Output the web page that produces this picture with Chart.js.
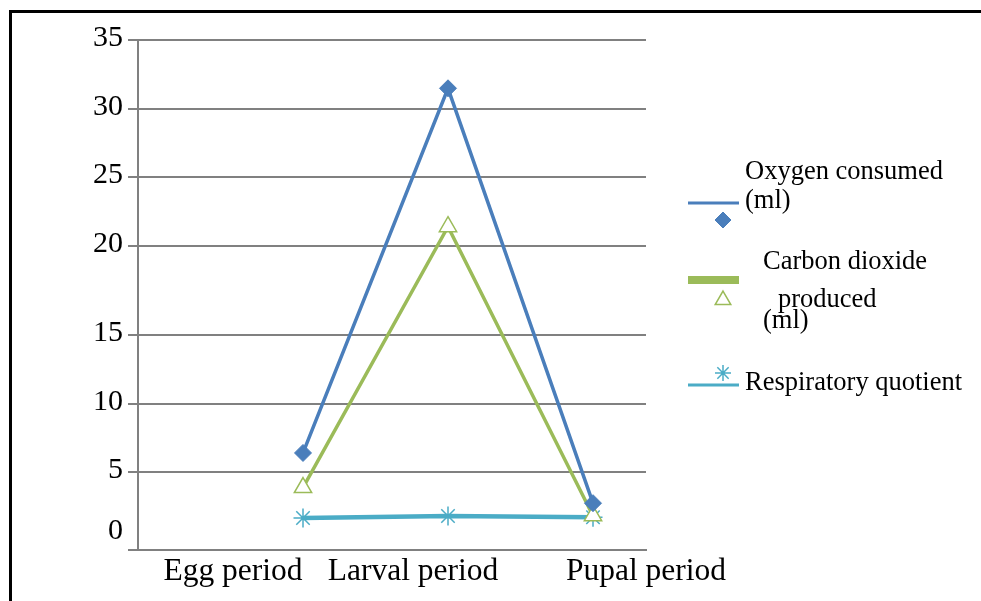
<!DOCTYPE html>
<html>
<head>
<meta charset="utf-8">
<script src="https://cdn.jsdelivr.net/npm/chart.js@4.4.1/dist/chart.umd.min.js"></script>
<style>
  html, body { margin: 0; padding: 0; background: #ffffff; }
  #wrap { position: relative; width: 981px; height: 601px; }
</style>
</head>
<body>
<div id="wrap"><canvas id="c"></canvas></div>
<script>
// ---------------- data ----------------
const categories = ['Egg period', 'Larval period', 'Pupal period'];
const oxygenConsumed = [6.4, 31.5, 3.0];
const co2Produced = [4.0, 21.4, 2.2];
const respiratoryQuotient = [2.05, 2.18, 2.1];
const yTickValues = [0, 5, 10, 15, 20, 25, 30, 35];
const seriesNames = [
  ['Oxygen consumed', '(ml)'],
  ['Carbon dioxide', 'produced', '(ml)'],
  ['Respiratory quotient']
];

// ---------------- layout (positions / styles) ----------------
// fraction of plot height (from bottom) at which each y tick gridline sits in the original
const yTickFrac = [0, 78 / 510, 146 / 510, 215 / 510, 304 / 510, 373 / 510, 441 / 510, 1];
const X_MIN = -165 / 145, X_MAX = 2 + 53 / 145;          // data index axis span
const xLabelAt = [-70 / 145, 110 / 145, X_MAX];           // where category labels sit on that axis
const GRID = '#808080';
const FONT = '"Liberation Serif", "Times New Roman", serif';
const COLORS = { o2: '#4a7ebb', co2: '#9bbb59', rq: '#4bacc6' };

function valueToFrac(v) {
  const n = yTickValues.length;
  let i = 0;
  if (v <= yTickValues[0]) i = 0;
  else if (v >= yTickValues[n - 1]) i = n - 2;
  else { while (i < n - 2 && v > yTickValues[i + 1]) i++; }
  const v0 = yTickValues[i], v1 = yTickValues[i + 1];
  const f0 = yTickFrac[i], f1 = yTickFrac[i + 1];
  return f0 + (v - v0) / (v1 - v0) * (f1 - f0);
}
function fracToValue(f) {
  const n = yTickFrac.length;
  let i = 0;
  if (f <= yTickFrac[0]) i = 0;
  else if (f >= yTickFrac[n - 1]) i = n - 2;
  else { while (i < n - 2 && f > yTickFrac[i + 1]) i++; }
  const f0 = yTickFrac[i], f1 = yTickFrac[i + 1];
  const v0 = yTickValues[i], v1 = yTickValues[i + 1];
  return v0 + (f - f0) / (f1 - f0) * (v1 - v0);
}

class PiecewiseScale extends Chart.LinearScale {
  getPixelForValue(value) {
    if (value === null || value === undefined) return NaN;
    return this.getPixelForDecimal(valueToFrac(value));
  }
  getValueForPixel(pixel) {
    return fracToValue(this.getDecimalForPixel(pixel));
  }
}
PiecewiseScale.id = 'piecewise';
PiecewiseScale.defaults = Chart.LinearScale.defaults;
Chart.register(PiecewiseScale);

const toPoints = arr => arr.map((v, i) => ({ x: i, y: v }));

const framePlugin = {
  id: 'frame',
  afterDraw(chart) {
    const ctx = chart.ctx;
    ctx.save();
    ctx.fillStyle = '#000';
    ctx.fillRect(9, 10, 3, 601);
    ctx.fillRect(9, 10, 972, 3);
    ctx.restore();
  }
};

const legendLayout = [
  { line: { y: 203, w: 3 }, marker: { x: 723, y: 220, r: 8 },
    text: [{ x: 745, y: 179 }, { x: 745, y: 208 }] },
  { line: { y: 280, w: 8 }, marker: { x: 723, y: 300, r: 9 },
    text: [{ x: 763, y: 269 }, { x: 778, y: 307 }, { x: 763, y: 328 }] },
  { line: { y: 385, w: 3 }, marker: { x: 723, y: 373, r: 8 },
    text: [{ x: 745, y: 390 }] }
];

const legendPlugin = {
  id: 'customLegend',
  afterDraw(chart) {
    const ctx = chart.ctx;
    ctx.save();
    chart.data.datasets.forEach((ds, k) => {
      const L = legendLayout[k];
      ctx.strokeStyle = ds.borderColor;
      ctx.lineWidth = L.line.w;
      ctx.lineCap = 'butt';
      ctx.beginPath();
      ctx.moveTo(688, L.line.y);
      ctx.lineTo(739, L.line.y);
      ctx.stroke();
      ctx.fillStyle = ds.pointBackgroundColor || ds.borderColor;
      ctx.strokeStyle = ds.pointBorderColor || ds.borderColor;
      ctx.lineWidth = ds.pointBorderWidth;
      Chart.helpers.drawPoint(ctx, {
        pointStyle: ds.pointStyle, radius: L.marker.r, rotation: 0, borderWidth: ds.pointBorderWidth
      }, L.marker.x, L.marker.y);
      ctx.fillStyle = '#000';
      ctx.font = '26.5px ' + FONT;
      ctx.textBaseline = 'alphabetic';
      ctx.textAlign = 'left';
      seriesNames[k].forEach((t, j) => ctx.fillText(t, L.text[j].x, L.text[j].y));
    });
    ctx.restore();
  }
};

new Chart(document.getElementById('c'), {
  type: 'line',
  data: {
    datasets: [
      {
        label: seriesNames[0].join(' '),
        data: toPoints(oxygenConsumed),
        borderColor: COLORS.o2, backgroundColor: COLORS.o2,
        pointBackgroundColor: COLORS.o2, pointBorderColor: COLORS.o2,
        borderWidth: 3.5, pointStyle: 'rectRot', pointRadius: 8.5, pointBorderWidth: 1
      },
      {
        label: seriesNames[1].join(' '),
        data: toPoints(co2Produced),
        borderColor: COLORS.co2, backgroundColor: COLORS.co2,
        pointBackgroundColor: '#ffffff', pointBorderColor: COLORS.co2,
        borderWidth: 3.5, pointStyle: 'triangle', pointRadius: 10, pointBorderWidth: 1.5
      },
      {
        label: seriesNames[2].join(' '),
        data: toPoints(respiratoryQuotient),
        borderColor: COLORS.rq, backgroundColor: COLORS.rq,
        pointBackgroundColor: COLORS.rq, pointBorderColor: COLORS.rq,
        borderWidth: 4.5, pointStyle: 'star', pointRadius: 9.5, pointBorderWidth: 1.5
      }
    ]
  },
  options: {
    responsive: true,
    maintainAspectRatio: false,
    animation: false,
    events: [],
    layout: { padding: { top: 40, right: 335, left: 0, bottom: 0 } },
    plugins: { legend: { display: false }, tooltip: { enabled: false } },
    elements: { line: { tension: 0 } },
    scales: {
      x: {
        type: 'linear',
        min: X_MIN, max: X_MAX,
        afterBuildTicks: s => { s.ticks = xLabelAt.map(v => ({ value: v })); },
        afterFit: s => { s.height = 51; },
        grid: { display: false, drawTicks: false },
        border: { display: true, color: GRID, width: 2 },
        ticks: {
          autoSkip: false, maxRotation: 0, minRotation: 0, padding: 3,
          color: '#000', font: { family: FONT, size: 31.5 },
          callback: (v, i) => categories[i]
        }
      },
      y: {
        type: 'piecewise',
        min: 0, max: 35,
        afterBuildTicks: s => { s.ticks = yTickValues.map(v => ({ value: v })); },
        afterFit: s => { s.width = 138; },
        grid: { color: GRID, lineWidth: 2, drawTicks: true, tickLength: 10 },
        border: { display: true, color: GRID, width: 2 },
        ticks: {
          padding: 5, labelOffset: -2, color: '#000',
          font: { family: FONT, size: 30, lineHeight: 1.1 },
          callback: (v) => v === 0 ? ['0', ''] : String(v)
        }
      }
    }
  },
  plugins: [legendPlugin, framePlugin]
});
</script>
</body>
</html>
